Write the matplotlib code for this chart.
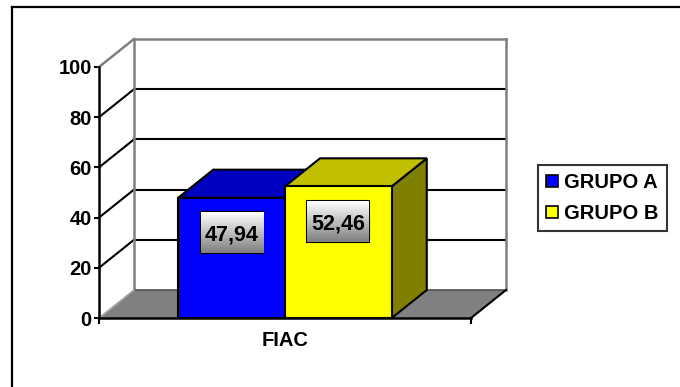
import numpy as np
import matplotlib
matplotlib.use("Agg")
import matplotlib.pyplot as plt
from matplotlib.patches import Rectangle, Polygon, Patch
from matplotlib.offsetbox import OffsetImage, AnnotationBbox
from matplotlib.lines import Line2D

# ---- data ----
categories = ["FIAC"]
series_names = ["GRUPO A", "GRUPO B"]
values = [47.94, 52.46]
yticks = [0, 20, 40, 60, 80, 100]

# ---- styles ----
front_colors = ["#0000FF", "#FFFF00"]
top_colors = ["#0000C0", "#C0C000"]
side_colors = ["#000080", "#808000"]
wall_gray = "#808080"
FS = 14.5

plt.rcParams['font.family'] = ['Liberation Sans', 'DejaVu Sans']
plt.rcParams['font.weight'] = 'bold'

W, H = 680, 387
fig = plt.figure(figsize=(W / 100, H / 100), dpi=100)
fig.patch.set_facecolor("white")

ax = fig.add_axes([99 / W, 1 - 318 / H, (471 - 99) / W, (318 - 67) / H])
ax.set_xlim(0, 1)
ax.set_ylim(0, 100)
ax.patch.set_visible(False)

# depth of the 3-D effect (pixels) expressed in data units
depth_px = (35, 28)
p0 = ax.transData.transform((0, 0))
p1 = ax.transData.transform((1, 100))
ddx = depth_px[0] / (p1[0] - p0[0])
ddy = depth_px[1] / ((p1[1] - p0[1]) / 100)

ymax = yticks[-1]

# floor
ax.add_patch(Polygon([(0, 0), (1, 0), (1 + ddx, ddy), (ddx, ddy)], closed=True,
                     facecolor=wall_gray, edgecolor='none', zorder=1, clip_on=False))

# gridlines on the back wall and the side wall
for t in yticks[1:-1]:
    ax.plot([ddx, 1 + ddx], [t + ddy, t + ddy], color='k', lw=1.5, zorder=2, clip_on=False)
    ax.plot([0, ddx], [t, t + ddy], color='k', lw=1.5, zorder=2, clip_on=False)

# wall outlines
edge_kw = dict(color=wall_gray, lw=1.8, zorder=2, clip_on=False, solid_capstyle='projecting')
ax.plot([0, ddx], [ymax, ymax + ddy], **edge_kw)
ax.plot([ddx, 1 + ddx], [ymax + ddy, ymax + ddy], **edge_kw)
ax.plot([1 + ddx, 1 + ddx], [ddy, ymax + ddy], **edge_kw)
ax.plot([ddx, ddx], [ddy, ymax + ddy], **edge_kw)
# floor outlines
ax.plot([ddx, 1 + ddx], [ddy, ddy], color='#505050', lw=1.2, zorder=2, clip_on=False)
ax.plot([0, ddx], [0, ddy], color='#a8a8a8', lw=1.2, zorder=2, clip_on=False)
ax.plot([1, 1 + ddx], [0, ddy], color='k', lw=1.5, zorder=2, clip_on=False)

# 3-D columns
w = 0.287
for i, v in enumerate(values):
    x0 = 0.5 - w + i * w
    x1 = x0 + w
    z = 3 + i
    kw = dict(edgecolor='k', lw=1.5, joinstyle='miter', zorder=z, clip_on=False)
    ax.add_patch(Polygon([(x1, 0), (x1 + ddx, ddy), (x1 + ddx, v + ddy), (x1, v)],
                         closed=True, facecolor=side_colors[i], **kw))
    ax.add_patch(Polygon([(x0, v), (x1, v), (x1 + ddx, v + ddy), (x0 + ddx, v + ddy)],
                         closed=True, facecolor=top_colors[i], **kw))
    ax.add_patch(Rectangle((x0, 0), w, v, facecolor=front_colors[i], **kw))

# value labels in gradient boxes
grad = np.linspace(1.0, 0.5, 41)[:, None, None] * np.ones((41, 62, 3))
off_pt = -35 * 72 / 100
for i, v in enumerate(values):
    xc = 0.5 - w + i * w + w / 2
    ab = AnnotationBbox(OffsetImage(grad, zoom=1, dpi_cor=False), (xc, v),
                        xybox=(0, off_pt), xycoords='data', boxcoords='offset points',
                        pad=0, frameon=True,
                        bboxprops=dict(edgecolor='k', lw=1.5, boxstyle='square,pad=0'))
    ab.set_zorder(8)
    ax.add_artist(ab)
    ax.annotate(f"{v:.2f}".replace('.', ','), (xc, v), xytext=(0, off_pt),
                textcoords='offset points', ha='center', va='center_baseline',
                fontsize=15.5, fontweight='bold', zorder=9, annotation_clip=False)

# axes, ticks
for s in ['top', 'right']:
    ax.spines[s].set_visible(False)
for s in ['left', 'bottom']:
    ax.spines[s].set_linewidth(1.8)
    ax.spines[s].set_zorder(10)
ax.set_yticks(yticks)
ax.tick_params(axis='y', direction='out', length=3.8, width=1.5, pad=1.5, labelsize=FS)
ax.set_xticks([0, 1])
ax.set_xticklabels([])
ax.tick_params(axis='x', which='major', direction='out', length=4.5, width=1.5)
ax.set_xticks([0.5], minor=True)
ax.set_xticklabels(categories, minor=True)
ax.tick_params(axis='x', which='minor', length=0, pad=9, labelsize=FS)

# legend
handles = [Patch(facecolor=c, edgecolor='k', lw=1.2) for c in front_colors]
leg = fig.legend(handles, series_names, loc='upper left',
                 bbox_to_anchor=(538 / W, 1 - 165 / H), frameon=True, fancybox=False,
                 edgecolor='k', prop=dict(size=FS, weight='bold'),
                 handlelength=0.6, handleheight=0.6, handletextpad=0.3,
                 labelspacing=0.6, borderpad=0.4, borderaxespad=0)
leg.get_frame().set_linewidth(1.5)

# outer chart border
fig.add_artist(Line2D([12 / W, 12 / W], [0, 1 - 7 / H], transform=fig.transFigure,
                      color='k', lw=1.6))
fig.add_artist(Line2D([12 / W, 1], [1 - 7 / H, 1 - 7 / H], transform=fig.transFigure,
                      color='k', lw=1.6))

fig.savefig("out.png", dpi=100)
